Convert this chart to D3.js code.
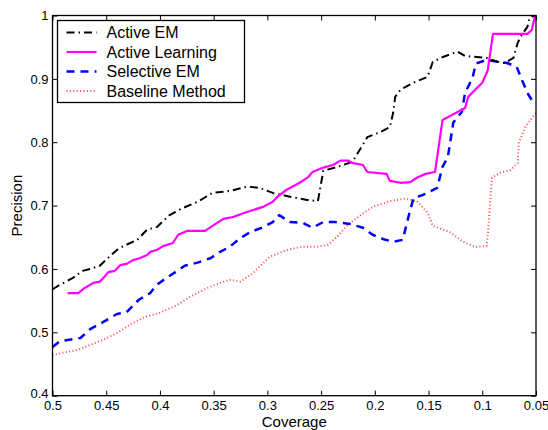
<!DOCTYPE html>
<html>
<head>
<meta charset="utf-8">
<script src="https://cdn.jsdelivr.net/npm/d3@7/dist/d3.min.js"></script>
<style>
  body { margin: 0; background: #fff; }
  svg { display: block; font-family: "Liberation Sans", Arial, sans-serif; }
  .axis text { font-size: 13px; fill: #000; }
  .axis line { stroke: #000; }
</style>
</head>
<body>
<div id="chart"></div>
<script>
// series data: [coverage, precision]
const activeEM = [
  [0.500, 0.568], [0.493, 0.575], [0.481, 0.586], [0.472, 0.597], [0.465, 0.600],
  [0.456, 0.605], [0.446, 0.621], [0.440, 0.630], [0.434, 0.636], [0.421, 0.646],
  [0.412, 0.662], [0.403, 0.666], [0.391, 0.685], [0.379, 0.696], [0.365, 0.706],
  [0.351, 0.720], [0.335, 0.723], [0.319, 0.730], [0.307, 0.728], [0.295, 0.720],
  [0.279, 0.714], [0.263, 0.709], [0.253, 0.707], [0.249, 0.745], [0.248, 0.755],
  [0.235, 0.761], [0.221, 0.769], [0.214, 0.788], [0.207, 0.808], [0.195, 0.816],
  [0.186, 0.824], [0.183, 0.846], [0.181, 0.872], [0.176, 0.883], [0.164, 0.894],
  [0.151, 0.903], [0.146, 0.927], [0.136, 0.935], [0.123, 0.943], [0.116, 0.936],
  [0.109, 0.935], [0.096, 0.933], [0.086, 0.927], [0.079, 0.925], [0.071, 0.933],
  [0.067, 0.957], [0.063, 0.970], [0.058, 0.982], [0.056, 0.996], [0.051, 1.000]
];

const activeLearning = [
  [0.486, 0.562], [0.476, 0.562], [0.470, 0.570], [0.462, 0.578], [0.456, 0.580],
  [0.451, 0.589], [0.448, 0.595], [0.442, 0.597], [0.437, 0.606], [0.431, 0.608],
  [0.425, 0.614], [0.419, 0.617], [0.412, 0.622], [0.409, 0.627], [0.403, 0.630],
  [0.397, 0.636], [0.388, 0.641], [0.383, 0.654], [0.375, 0.660], [0.358, 0.660],
  [0.351, 0.668], [0.341, 0.679], [0.332, 0.682], [0.319, 0.690], [0.304, 0.698],
  [0.295, 0.706], [0.290, 0.715], [0.282, 0.725], [0.270, 0.736], [0.262, 0.745],
  [0.258, 0.753], [0.248, 0.760], [0.239, 0.764], [0.232, 0.771], [0.225, 0.771],
  [0.220, 0.767], [0.211, 0.764], [0.207, 0.753], [0.189, 0.750], [0.186, 0.739],
  [0.176, 0.736], [0.167, 0.737], [0.161, 0.744], [0.153, 0.750], [0.144, 0.753],
  [0.137, 0.835], [0.116, 0.854], [0.113, 0.872], [0.100, 0.894], [0.095, 0.913],
  [0.090, 0.971], [0.071, 0.971], [0.058, 0.971], [0.054, 0.977], [0.051, 0.998]
];

const selectiveEM = [
  [0.500, 0.477], [0.493, 0.486], [0.474, 0.491], [0.465, 0.505], [0.453, 0.516],
  [0.440, 0.529], [0.431, 0.532], [0.420, 0.551], [0.409, 0.562], [0.403, 0.575],
  [0.393, 0.587], [0.383, 0.598], [0.377, 0.605], [0.365, 0.610], [0.353, 0.617],
  [0.344, 0.627], [0.335, 0.635], [0.325, 0.649], [0.316, 0.658], [0.304, 0.666],
  [0.295, 0.674], [0.289, 0.685], [0.279, 0.674], [0.267, 0.673], [0.258, 0.665],
  [0.248, 0.674], [0.237, 0.674], [0.223, 0.671], [0.211, 0.665], [0.202, 0.654],
  [0.192, 0.647], [0.183, 0.643], [0.174, 0.646], [0.170, 0.674], [0.164, 0.712],
  [0.155, 0.717], [0.142, 0.728], [0.137, 0.761], [0.132, 0.777], [0.127, 0.831],
  [0.119, 0.848], [0.116, 0.878], [0.109, 0.902], [0.106, 0.924], [0.096, 0.930],
  [0.086, 0.927], [0.077, 0.925], [0.068, 0.919], [0.063, 0.898], [0.057, 0.875],
  [0.051, 0.859]
];

const baseline = [
  [0.500, 0.464], [0.490, 0.468], [0.477, 0.472], [0.465, 0.480], [0.453, 0.488],
  [0.440, 0.499], [0.428, 0.512], [0.416, 0.523], [0.400, 0.531], [0.384, 0.543],
  [0.372, 0.556], [0.356, 0.570], [0.344, 0.578], [0.335, 0.583], [0.325, 0.580],
  [0.313, 0.594], [0.298, 0.619], [0.282, 0.630], [0.268, 0.635], [0.254, 0.635],
  [0.244, 0.638], [0.235, 0.651], [0.226, 0.668], [0.214, 0.684], [0.202, 0.698],
  [0.186, 0.707], [0.172, 0.711], [0.161, 0.707], [0.151, 0.689], [0.146, 0.668],
  [0.130, 0.658], [0.118, 0.643], [0.107, 0.635], [0.096, 0.636], [0.095, 0.651],
  [0.093, 0.698], [0.091, 0.744], [0.083, 0.752], [0.074, 0.756], [0.067, 0.767],
  [0.066, 0.799], [0.060, 0.824], [0.053, 0.840], [0.050, 0.846]
];

const seriesNames = ["Active EM", "Active Learning", "Selective EM", "Baseline Method"];
const xTicks = [0.5, 0.45, 0.4, 0.35, 0.3, 0.25, 0.2, 0.15, 0.1, 0.05];
const yTicks = [0.4, 0.5, 0.6, 0.7, 0.8, 0.9, 1];

const styles = [
  { color: "#000000", width: 2, dash: "8,4,1.5,4" },
  { color: "#ff00ff", width: 2.2, dash: null },
  { color: "#0000ff", width: 2.5, dash: "8,6" },
  { color: "#ff4a4a", width: 2, dash: "1,2.4" }
];

const W = 548, H = 430;
const margin = { top: 15.5, right: 12, bottom: 34.3, left: 52.5 };
const width = W - margin.left - margin.right;
const height = H - margin.top - margin.bottom;

const svg = d3.select("#chart").append("svg")
  .attr("width", W)
  .attr("height", H);

const plot = svg.append("g")
  .attr("transform", `translate(${margin.left},${margin.top})`);

const x = d3.scaleLinear().domain([0.5, 0.05]).range([0, width]);
const y = d3.scaleLinear().domain([0.4, 1]).range([height, 0]);

const fmt = d => String(+d.toFixed(2));

// bottom axis with labels, ticks inward
plot.append("g")
  .attr("class", "axis")
  .attr("transform", `translate(0,${height})`)
  .call(d3.axisBottom(x).tickValues(xTicks).tickSizeInner(-5).tickSizeOuter(0).tickPadding(5).tickFormat(fmt))
  .call(g => g.select(".domain").remove());

plot.append("g")
  .attr("class", "axis")
  .call(d3.axisTop(x).tickValues(xTicks).tickSizeInner(-5).tickSizeOuter(0).tickFormat(""))
  .call(g => g.select(".domain").remove());

plot.append("g")
  .attr("class", "axis")
  .call(d3.axisLeft(y).tickValues(yTicks).tickSizeInner(-5).tickSizeOuter(0).tickPadding(4).tickFormat(fmt))
  .call(g => g.select(".domain").remove())
  .call(g => g.selectAll(".tick text").filter(d => d === 0.4).attr("dy", "0.1em"));

plot.append("g")
  .attr("class", "axis")
  .attr("transform", `translate(${width},0)`)
  .call(d3.axisRight(y).tickValues(yTicks).tickSizeInner(-5).tickSizeOuter(0).tickFormat(""))
  .call(g => g.select(".domain").remove());

// clip lines to plot area
svg.append("defs").append("clipPath").attr("id", "clip")
  .append("rect").attr("x", 0).attr("y", -2).attr("width", width).attr("height", height + 2);

const line = d3.line().x(d => x(d[0])).y(d => y(d[1]));

const allSeries = [activeEM, activeLearning, selectiveEM, baseline];
// draw baseline first so it sits underneath
[3, 2, 0, 1].forEach(i => {
  plot.append("path")
    .datum(allSeries[i])
    .attr("clip-path", "url(#clip)")
    .attr("fill", "none")
    .attr("stroke", styles[i].color)
    .attr("stroke-width", styles[i].width)
    .attr("stroke-dasharray", styles[i].dash)
    .attr("stroke-linejoin", "round")
    .attr("d", line);
});

// frame
plot.append("rect")
  .attr("width", width)
  .attr("height", height)
  .attr("fill", "none")
  .attr("stroke", "#000")
  .attr("stroke-width", 1.3);

// axis titles
svg.append("text")
  .attr("x", margin.left + width / 2)
  .attr("y", 427)
  .attr("text-anchor", "middle")
  .attr("font-size", 15)
  .text("Coverage");

svg.append("text")
  .attr("transform", `translate(22,${margin.top + height / 2}) rotate(-90)`)
  .attr("text-anchor", "middle")
  .attr("font-size", 15)
  .text("Precision");

// legend
const legend = plot.append("g").attr("transform", "translate(5,5)");
legend.append("rect")
  .attr("width", 187)
  .attr("height", 82)
  .attr("fill", "#fff")
  .attr("stroke", "#000")
  .attr("stroke-width", 1.3);

seriesNames.forEach((name, i) => {
  const ly = 12 + i * 19.5;
  legend.append("line")
    .attr("x1", 9).attr("x2", 39)
    .attr("y1", ly).attr("y2", ly)
    .attr("stroke", styles[i].color)
    .attr("stroke-width", styles[i].width)
    .attr("stroke-dasharray", styles[i].dash);
  legend.append("text")
    .attr("x", 49)
    .attr("y", ly)
    .attr("dy", "0.36em")
    .attr("font-size", 16)
    .text(name);
});
</script>
</body>
</html>
